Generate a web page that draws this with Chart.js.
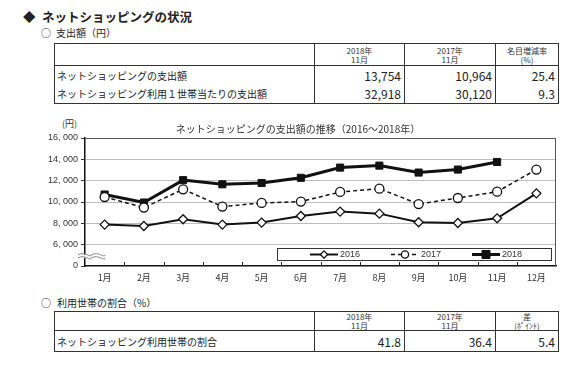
<!DOCTYPE html>
<html lang="ja">
<head>
<meta charset="utf-8">
<script src="https://cdn.jsdelivr.net/npm/chart.js@4.4.0/dist/chart.umd.min.js"></script>
<style>
  html, body { margin: 0; padding: 0; background: #fff; }
  body { width: 569px; height: 368px; position: relative; overflow: hidden;
         font-family: "Noto Sans CJK JP", "Noto Sans", sans-serif; color: #222; }
  .abs { position: absolute; white-space: nowrap; }
  .head { font-size: 12.5px; font-weight: bold; line-height: 15px; }
  .sub { font-size: 10px; line-height: 12px; }
  table { position: absolute; border-collapse: collapse; border: 1px solid #333; table-layout: fixed; }
  td { padding: 0; border-left: 1px solid #333; border-right: 1px solid #333; overflow: hidden; white-space: nowrap; }
  tr.hd td { border-bottom: 1px solid #333; font-size: 8px; line-height: 9px; text-align: center; color: #333; }
  td.lbl { font-size: 10px; padding-left: 2px; }
  td.num { font-size: 12px; text-align: right; padding-right: 3px; }
  #chartBox { position: absolute; left: 40px; top: 115px; width: 526px; height: 175px; }
</style>
</head>
<body>

<div class="abs head" style="left:23px; top:9px;">◆</div>
<div class="abs head" style="left:42px; top:9px;">ネットショッピングの状況</div>

<div class="abs sub" style="left:41px; top:27px;">○</div>
<div class="abs sub" style="left:56px; top:27px;">支出額（円）</div>

<table style="left:54px; top:43px; width:505px;">
  <colgroup><col style="width:260px"><col style="width:90px"><col style="width:91px"><col style="width:63px"></colgroup>
  <tr class="hd" style="height:22px"><td></td><td>2018年<br>11月</td><td>2017年<br>11月</td><td>名目増減率<br>(%)</td></tr>
  <tr style="height:19px"><td class="lbl">ネットショッピングの支出額</td><td class="num">13,754</td><td class="num">10,964</td><td class="num">25.4</td></tr>
  <tr style="height:19px"><td class="lbl">ネットショッピング利用１世帯当たりの支出額</td><td class="num">32,918</td><td class="num">30,120</td><td class="num">9.3</td></tr>
</table>

<div class="abs" style="left:62px; top:119px; font-size:9px; line-height:10px; color:#333;">(円)</div>

<div id="chartBox"><canvas id="spendChart"></canvas></div>

<div class="abs sub" style="left:41px; top:297px;">○</div>
<div class="abs sub" style="left:57px; top:297px;">利用世帯の割合（%）</div>

<table style="left:54px; top:311px; width:505px;">
  <colgroup><col style="width:260px"><col style="width:90px"><col style="width:91px"><col style="width:63px"></colgroup>
  <tr class="hd" style="height:19px"><td></td><td>2018年<br>11月</td><td>2017年<br>11月</td><td>差<br>(ﾎﾟｲﾝﾄ)</td></tr>
  <tr style="height:21px"><td class="lbl">ネットショッピング利用世帯の割合</td><td class="num">41.8</td><td class="num">36.4</td><td class="num">5.4</td></tr>
</table>

<script>
// chart data (yen per household, monthly)
const months = ["1月", "2月", "3月", "4月", "5月", "6月", "7月", "8月", "9月", "10月", "11月", "12月"];
const spend2016 = [7880, 7750, 8380, 7880, 8070, 8690, 9100, 8910, 8100, 8030, 8470, 10810];
const spend2017 = [10470, 9475, 11190, 9570, 9910, 10040, 10940, 11250, 9810, 10375, 10964, 13040];
const spend2018 = [10700, 9950, 12050, 11660, 11780, 12270, 13225, 13410, 12760, 13040, 13754, null];
const seriesNames = ["2016", "2017", "2018"];

// the axis is broken below 6,000: the lowest tick is shown as "0"
const yMin = 4000, yMax = 16000, yStep = 2000;

function fmtYen(v) {
    if (v === yMin) return "0";
    return v.toLocaleString("en-US").replace(",", ", ");
}

// frame, inward x ticks, axis break mark and boxed legend
const decorPlugin = {
    id: "decor",
    afterDraw(chart) {
        const ctx = chart.ctx;
        const a = chart.chartArea;
        const xs = chart.scales.x;
        const ys = chart.scales.y;
        ctx.save();

        // right border of the plot
        ctx.strokeStyle = "#555";
        ctx.lineWidth = 1;
        ctx.beginPath();
        ctx.moveTo(a.right - 0.5, a.top);
        ctx.lineTo(a.right - 0.5, a.bottom);
        ctx.stroke();

        // small ticks pointing up from the x axis, between months
        const step = (xs.right - xs.left) / months.length;
        ctx.strokeStyle = "#222";
        ctx.beginPath();
        for (let i = 1; i < months.length; i++) {
            const x = Math.round(xs.left + i * step) + 0.5;
            ctx.moveTo(x, a.bottom);
            ctx.lineTo(x, a.bottom - 4);
        }
        ctx.stroke();

        // wavy break mark across the y axis
        const yb = (ys.getPixelForValue(6000) + ys.getPixelForValue(yMin)) / 2 + 1;
        const x0 = a.left - 7, x1 = a.left + 20;
        function wave(y) {
            ctx.moveTo(x0, y);
            ctx.bezierCurveTo(x0 + 7, y - 4, x0 + 13, y + 4, (x0 + x1) / 2, y);
            ctx.bezierCurveTo(x0 + 20, y - 4, x0 + 27, y + 4, x1, y);
        }
        ctx.fillStyle = "#fff";
        ctx.fillRect(a.left - 2, yb - 1.5, 4, 3);
        ctx.strokeStyle = "#888";
        ctx.lineWidth = 1;
        ctx.beginPath();
        wave(yb - 1.5);
        wave(yb + 1.5);
        ctx.stroke();

        // legend box at the bottom of the plot
        const boxL = a.right - 279, boxR = a.right - 5;
        const boxT = a.bottom - 18, boxB = a.bottom - 6;
        ctx.fillStyle = "#fff";
        ctx.fillRect(boxL, boxT, boxR - boxL, boxB - boxT);
        ctx.strokeStyle = "#333";
        ctx.lineWidth = 1;
        ctx.strokeRect(boxL + 0.5, boxT + 0.5, boxR - boxL, boxB - boxT);

        const midY = (boxT + boxB) / 2 + 0.5;
        chart.data.datasets.forEach((ds, i) => {
            const lx = boxL + 33 + i * 81;
            const cx = lx + 14;
            const r = ds.pointRadius * 0.8;
            ctx.strokeStyle = ds.borderColor;
            ctx.lineWidth = ds.borderWidth;
            ctx.setLineDash(ds.borderDash || []);
            ctx.beginPath();
            ctx.moveTo(lx, midY);
            ctx.lineTo(lx + 28, midY);
            ctx.stroke();
            ctx.setLineDash([]);

            ctx.fillStyle = ds.pointBackgroundColor;
            ctx.lineWidth = ds.pointBorderWidth;
            ctx.beginPath();
            if (ds.pointStyle === "rect") {
                ctx.rect(cx - r, midY - r, r * 2, r * 2);
            } else if (ds.pointStyle === "rectRot") {
                ctx.moveTo(cx, midY - r);
                ctx.lineTo(cx + r, midY);
                ctx.lineTo(cx, midY + r);
                ctx.lineTo(cx - r, midY);
                ctx.closePath();
            } else {
                ctx.arc(cx, midY, r, 0, Math.PI * 2);
            }
            ctx.fill();
            ctx.stroke();

            ctx.fillStyle = "#333";
            ctx.font = "9px 'Liberation Sans Narrow', 'Liberation Sans', sans-serif";
            ctx.textBaseline = "middle";
            ctx.textAlign = "left";
            ctx.fillText(ds.label, lx + 30, midY);
        });
        ctx.restore();
    }
};

new Chart(document.getElementById("spendChart").getContext("2d"), {
    type: "line",
    data: {
        labels: months,
        datasets: [
            {
                label: seriesNames[0], data: spend2016,
                borderColor: "#111", borderWidth: 2,
                pointStyle: "rectRot", pointRadius: 4.5, pointBorderWidth: 1.3,
                pointBackgroundColor: "#fff", pointBorderColor: "#111"
            },
            {
                label: seriesNames[1], data: spend2017,
                borderColor: "#111", borderWidth: 1.5, borderDash: [4, 3],
                pointStyle: "circle", pointRadius: 4.5, pointBorderWidth: 1.3,
                pointBackgroundColor: "#fff", pointBorderColor: "#111"
            },
            {
                label: seriesNames[2], data: spend2018,
                borderColor: "#111", borderWidth: 3,
                pointStyle: "rect", pointRadius: 5, pointBorderWidth: 1,
                pointBackgroundColor: "#111", pointBorderColor: "#111"
            }
        ]
    },
    options: {
        responsive: true,
        maintainAspectRatio: false,
        animation: false,
        events: [],
        layout: { padding: { top: 0, right: 10, left: 0, bottom: 0 } },
        plugins: {
            legend: { display: false },
            tooltip: { enabled: false },
            title: {
                display: true,
                text: "ネットショッピングの支出額の推移（2016～2018年）",
                color: "#333",
                font: { family: "'Noto Sans CJK JP'", size: 10, weight: "normal" },
                padding: { top: 8, bottom: 3 }
            }
        },
        scales: {
            x: {
                offset: true,
                afterFit(scale) { scale.height = 24; },
                grid: { display: true, drawOnChartArea: false, drawTicks: false, offset: true },
                border: { color: "#111", width: 1.5 },
                ticks: {
                    color: "#333", padding: 6,
                    font: { family: "'Noto Sans CJK JP'", size: 9 }
                }
            },
            y: {
                min: yMin, max: yMax,
                afterFit(scale) { scale.width = 45; },
                afterBuildTicks(scale) {
                    const t = [];
                    for (let v = yMin; v <= yMax; v += yStep) t.push({ value: v });
                    scale.ticks = t;
                },
                grid: {
                    color(c) {
                        if (c.tick && c.tick.value === yMax) return "#555";
                        if (c.tick && c.tick.value === yMin) return "rgba(0,0,0,0)";
                        return "#bdbdbd";
                    },
                    tickColor: "#333",
                    tickLength: 4
                },
                border: { color: "#111", width: 1.5 },
                ticks: {
                    color: "#333", padding: 3,
                    font: { family: "'Liberation Sans', sans-serif", size: 9 },
                    callback: (v) => fmtYen(v)
                }
            }
        }
    },
    plugins: [decorPlugin]
});
</script>
</body>
</html>
